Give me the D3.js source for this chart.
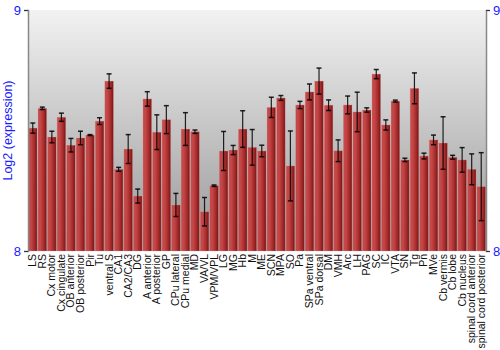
<!DOCTYPE html>
<html>
<head>
<meta charset="utf-8">
<script src="https://cdn.jsdelivr.net/npm/d3@7"></script>
<style>
  body { margin: 0; background: #fff; }
  svg { display: block; font-family: "Liberation Sans", Arial, sans-serif; }
</style>
</head>
<body>
<div id="chart"></div>
<script>
const regions = ["LS", "RS", "Cx motor", "Cx cingulate", "OB anterior", "OB posterior", "Pir", "Tu",
    "ventral S", "CA1", "CA2/CA3", "DG", "A anterior", "A posterior", "GP", "CPu lateral", "CPu medial",
    "MD", "VA/VL", "VPM/VPL", "LG", "MG", "Hb", "M", "ME", "SCN", "MPA", "SO", "Pa", "SPa ventral",
    "SPa dorsal", "DM", "VMH", "Arc", "LH", "PAG", "SC", "IC", "VTA", "SN", "Tg", "Pn", "MVe",
    "Cb vermis", "Cb lobe", "Cb nucleus", "spinal cord anterior", "spinal cord posterior"];

const expression = [8.510, 8.592, 8.473, 8.555, 8.439, 8.469, 8.481, 8.539,
    8.705, 8.339, 8.423, 8.228, 8.631, 8.493, 8.545, 8.191, 8.506,
    8.495, 8.163, 8.271, 8.415, 8.419, 8.506, 8.430, 8.415, 8.596, 8.635, 8.353, 8.606, 8.660,
    8.705, 8.605, 8.416, 8.606, 8.577, 8.585, 8.734, 8.523, 8.622, 8.378, 8.675, 8.394, 8.461,
    8.448, 8.389, 8.378, 8.339, 8.267];

const errors = [0.021, 0.005, 0.024, 0.017, 0.028, 0.028, 0.002, 0.014,
    0.030, 0.008, 0.060, 0.029, 0.030, 0.072, 0.058, 0.048, 0.068,
    0.007, 0.059, 0.003, 0.081, 0.019, 0.076, 0.074, 0.024, 0.042, 0.010, 0.145, 0.015, 0.033,
    0.054, 0.022, 0.045, 0.037, 0.082, 0.009, 0.019, 0.021, 0.004, 0.007, 0.064, 0.012, 0.020,
    0.109, 0.008, 0.051, 0.064, 0.141];

const yTicks = [8, 9];

const W = 500, H = 350;
const MARGIN = { LEFT: 28, RIGHT: 14, TOP: 10, BOTTOM: 99 };

const data = regions.map((r, i) => ({ region: r, value: expression[i], err: errors[i] }));

const svg = d3.select("#chart").append("svg")
    .attr("width", W)
    .attr("height", H);

const defs = svg.append("defs");

const bg = defs.append("linearGradient")
    .attr("id", "bg").attr("x1", 0).attr("y1", 0).attr("x2", 0).attr("y2", 1);
bg.append("stop").attr("offset", "0%").attr("stop-color", "#f2f2f2");
bg.append("stop").attr("offset", "100%").attr("stop-color", "#979797");

const barGrad = defs.append("linearGradient")
    .attr("id", "bar").attr("x1", 0).attr("y1", 0).attr("x2", 1).attr("y2", 0);
barGrad.append("stop").attr("offset", "0%").attr("stop-color", "#c24a4a");
barGrad.append("stop").attr("offset", "30%").attr("stop-color", "#c54646");
barGrad.append("stop").attr("offset", "70%").attr("stop-color", "#a52a2a");
barGrad.append("stop").attr("offset", "100%").attr("stop-color", "#741414");

const x = d3.scaleBand()
    .domain(regions)
    .range([MARGIN.LEFT, W - MARGIN.RIGHT])
    .paddingInner(0.1)
    .paddingOuter(0.05);

const y = d3.scaleLinear()
    .domain([8, 9])
    .range([H - MARGIN.BOTTOM, MARGIN.TOP]);

// plot background
svg.append("rect")
    .attr("x", MARGIN.LEFT)
    .attr("y", MARGIN.TOP)
    .attr("width", W - MARGIN.RIGHT - MARGIN.LEFT)
    .attr("height", y(8) - y(9))
    .attr("fill", "url(#bg)");

// bars
svg.append("g").selectAll("rect")
    .data(data)
    .join("rect")
    .attr("x", d => x(d.region))
    .attr("y", d => y(d.value))
    .attr("width", x.bandwidth())
    .attr("height", d => y(8) - y(d.value))
    .attr("fill", "url(#bar)")
    .attr("stroke", "rgba(230,150,150,0.35)")
    .attr("stroke-width", 0.8);

// error bars
const eb = svg.append("g")
    .attr("stroke", "#000")
    .attr("stroke-opacity", 0.85)
    .selectAll("g")
    .data(data)
    .join("g")
    .attr("transform", d => `translate(${x(d.region) + x.bandwidth() / 2},0)`);

eb.append("line")
    .attr("y1", d => y(d.value + d.err))
    .attr("y2", d => y(d.value - d.err))
    .attr("stroke-width", 1.2);
eb.append("line")
    .attr("x1", -2.5).attr("x2", 2.5)
    .attr("y1", d => y(d.value + d.err))
    .attr("y2", d => y(d.value + d.err))
    .attr("stroke-width", 1.5);
eb.append("line")
    .attr("x1", -2.5).attr("x2", 2.5)
    .attr("y1", d => y(d.value - d.err))
    .attr("y2", d => y(d.value - d.err))
    .attr("stroke-width", 1.5);

// axes
const leftAxis = svg.append("g")
    .attr("transform", `translate(${MARGIN.LEFT},0)`)
    .call(d3.axisLeft(y).tickValues(yTicks).tickFormat(d3.format("d")).tickSize(4).tickPadding(3));
const rightAxis = svg.append("g")
    .attr("transform", `translate(${W - MARGIN.RIGHT},0)`)
    .call(d3.axisRight(y).tickValues(yTicks).tickFormat(d3.format("d")).tickSize(4).tickPadding(3));

[leftAxis, rightAxis].forEach(a => {
    a.select(".domain").attr("stroke", "#888").attr("stroke-width", 1.5);
    a.selectAll(".tick line").attr("stroke", "#333");
    a.selectAll(".tick text")
        .attr("fill", "#1a1aff")
        .style("font-size", "13px")
        .style("font-family", "Liberation Sans, Arial, sans-serif");
});

// x labels
svg.append("g").selectAll("text")
    .data(regions)
    .join("text")
    .attr("transform", d => `translate(${x(d) + x.bandwidth() / 2 + 3.5},${y(8) + 3}) rotate(-90)`)
    .attr("text-anchor", "end")
    .style("font-size", "10.5px")
    .attr("fill", "#111")
    .text(d => d);

// y title
svg.append("text")
    .attr("transform", `translate(12,${(y(8) + y(9)) / 2}) rotate(-90)`)
    .attr("text-anchor", "middle")
    .attr("fill", "#1a1aff")
    .style("font-size", "12.5px")
    .text("Log2 (expression)");
</script>
</body>
</html>
